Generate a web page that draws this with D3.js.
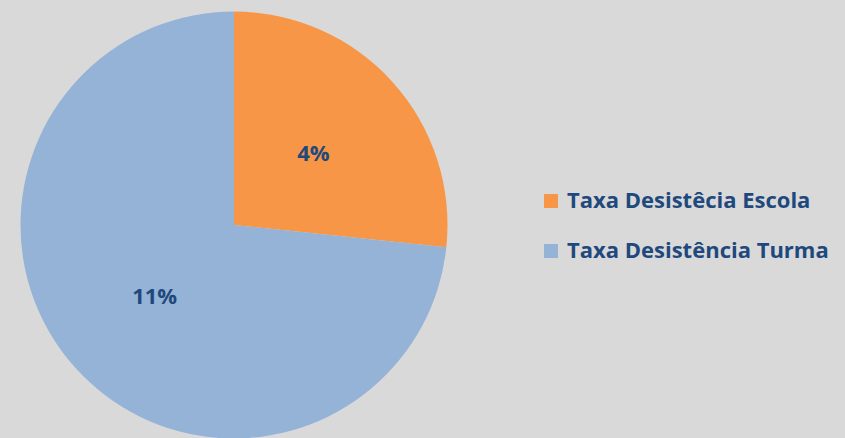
<!DOCTYPE html>
<html>
<head>
<meta charset="utf-8">
<script src="https://cdn.jsdelivr.net/npm/d3@7"></script>
<style>
  body { margin: 0; background: #d9d9d9; }
  svg { display: block; }
</style>
</head>
<body>
<svg id="chart" width="845" height="438"></svg>
<script>
// data
var categories = ["Taxa Desistêcia Escola", "Taxa Desistência Turma"];
var values = [4, 11];
var labels = ["4%", "11%"];
var colors = ["#f79646", "#95b3d7"];

var svg = d3.select("#chart"),
    width = +svg.attr("width"),
    height = +svg.attr("height");

svg.append("rect")
    .attr("width", width)
    .attr("height", height)
    .attr("fill", "#d9d9d9");

var cx = 234, cy = 225, radius = 213.5;

var pie = d3.pie().sort(null).value(function (d) { return d; });
var arc = d3.arc().innerRadius(0).outerRadius(radius);
var labelArc = d3.arc().innerRadius(radius / 2).outerRadius(radius / 2);

var g = svg.append("g").attr("transform", "translate(" + cx + "," + cy + ")");

var slices = g.selectAll(".slice")
    .data(pie(values))
    .enter()
    .append("g")
    .attr("class", "slice");

slices.append("path")
    .attr("d", arc)
    .attr("fill", function (d, i) { return colors[i]; });

slices.append("text")
    .attr("transform", function (d) {
        return "translate(" + labelArc.centroid(d) + ")";
    })
    .attr("text-anchor", "middle")
    .attr("dy", "0.35em")
    .style("font-family", "'Open Sans', sans-serif")
    .style("font-weight", "bold")
    .style("font-size", "22px")
    .attr("fill", "#1f497d")
    .text(function (d, i) { return labels[i]; });

// legend
var legend = svg.append("g").attr("transform", "translate(544,0)");

var item = legend.selectAll(".item")
    .data(categories)
    .enter()
    .append("g")
    .attr("class", "item")
    .attr("transform", function (d, i) { return "translate(0," + (194 + i * 50) + ")"; });

item.append("rect")
    .attr("width", 14)
    .attr("height", 14)
    .attr("fill", function (d, i) { return colors[i]; });

item.append("text")
    .attr("x", 23)
    .attr("y", 14)
    .style("font-family", "'Open Sans', sans-serif")
    .style("font-weight", "bold")
    .style("font-size", "22px")
    .attr("fill", "#1f497d")
    .text(function (d) { return d; });
</script>
</body>
</html>
